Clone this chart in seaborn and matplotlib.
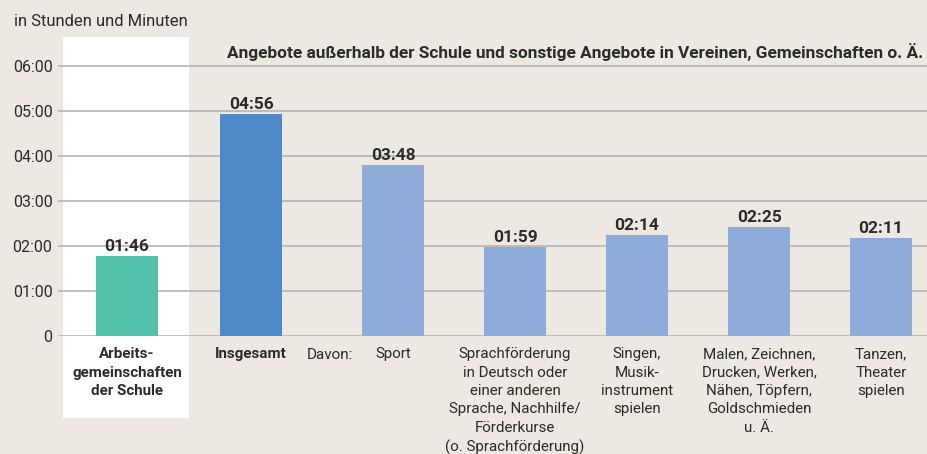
import numpy as np
import pandas as pd
import matplotlib.pyplot as plt
import seaborn as sns
from matplotlib.patches import Rectangle

categories = [
    'Arbeits-\ngemeinschaften\nder Schule',
    'Insgesamt',
    'Sport',
    'Sprachförderung\nin Deutsch oder\neiner anderen\nSprache, Nachhilfe/\nFörderkurse\n(o. Sprachförderung)',
    'Singen,\nMusik-\ninstrument\nspielen',
    'Malen, Zeichnen,\nDrucken, Werken,\nNähen, Töpfern,\nGoldschmieden\nu. Ä.',
    'Tanzen,\nTheater\nspielen',
]
time_labels = ['01:46', '04:56', '03:48', '01:59', '02:14', '02:25', '02:11']
hours = [int(t[:2]) + int(t[3:]) / 60 for t in time_labels]
ytick_labels = ['0', '01:00', '02:00', '03:00', '04:00', '05:00', '06:00']

# layout
xpos = [0, 1.016, 2.18, 3.18, 4.18, 5.18, 6.18]
colors = ['#53c1a9', '#5089c8', '#8eacd9', '#8eacd9', '#8eacd9', '#8eacd9', '#8eacd9']
bg = '#ede9e2'
grid_col = '#b5b5b5'
txt = '#2b2b2b'

sns.set_style('white')
plt.rcParams['font.family'] = ['Roboto', 'DejaVu Sans']
plt.rcParams['text.color'] = txt

df = pd.DataFrame({'x': xpos, 'h': hours, 'cat': categories})

fig = plt.figure(figsize=(9.27, 4.54), dpi=100, facecolor=bg)
ax = fig.add_axes([58 / 927, 118 / 454, 869 / 927, 299 / 454])
ax.set_facecolor(bg)

sns.barplot(data=df, x='x', y='h', hue='cat', palette=colors, native_scale=True,
            width=0.508, legend=False, ax=ax, zorder=3, saturation=1,
            linewidth=0, edgecolor='none')

ax.set_xlim(-0.566, 6.557)
ax.set_ylim(0, 6.644)

# weisses Feld fuer Schul-AGs
ax.add_patch(Rectangle((-0.525, -1.82), 1.033, 6.644 + 1.82, facecolor='white',
                       edgecolor='none', zorder=0, clip_on=False))

for v in range(7):
    ax.axhline(v, color=grid_col, lw=1.2, zorder=1)

for s in ax.spines.values():
    s.set_visible(False)

ax.set_yticks(range(7))
ax.set_yticklabels(ytick_labels, fontsize=11.5, color=txt)
ax.tick_params(axis='y', length=0, pad=4)

ax.set_xticks(xpos)
ax.set_xticklabels(categories, fontsize=10.9, color=txt, linespacing=1.4)
ax.tick_params(axis='x', length=0, pad=8)
for lab in ax.get_xticklabels()[:2]:
    lab.set_fontweight('bold')
ax.set_xlabel('')
ax.set_ylabel('')

for x, h, t in zip(xpos, hours, time_labels):
    ax.annotate(t, (x, h), xytext=(0, 1.5), textcoords='offset points', ha='center',
                va='bottom', fontsize=12.5, fontweight='bold', color=txt)

ax.text(1.66, -0.27, 'Davon:', ha='center', va='top', fontsize=11, color=txt)
fig.text(14 / 927, 1 - 22 / 454, 'in Stunden und Minuten', ha='left', va='center',
         fontsize=12, color=txt)
ax.text(6.53, 6.3, 'Angebote außerhalb der Schule und sonstige Angebote in Vereinen, '
        'Gemeinschaften o. Ä.', ha='right', va='center', fontsize=12.4,
        fontweight='bold', color=txt)

fig.savefig('out.png', dpi=100, facecolor=bg)
